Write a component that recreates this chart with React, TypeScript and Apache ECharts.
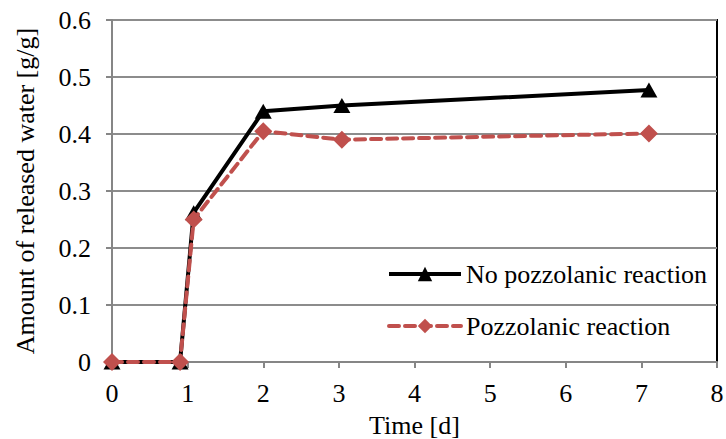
import React, { useEffect, useRef } from "react";
import * as echarts from "echarts";

const seriesNames = ["No pozzolanic reaction", "Pozzolanic reaction"];
const timeNoPozz = [0, 0.9, 1.08, 2.0, 3.04, 7.1];
const valNoPozz = [0, 0, 0.262, 0.44, 0.45, 0.477];
const timePozz = [0, 0.9, 1.08, 2.0, 3.04, 7.1];
const valPozz = [0, 0, 0.25, 0.405, 0.39, 0.401];
const xTicks = [0, 1, 2, 3, 4, 5, 6, 7, 8];
const yTicks = [0, 0.1, 0.2, 0.3, 0.4, 0.5, 0.6];

const FONT = "Liberation Serif";
const FS = 26;

export default function App() {
  const ref = useRef<HTMLDivElement>(null);
  useEffect(() => {
    if (!ref.current) return;
    const chart = echarts.init(ref.current, undefined, { renderer: "svg" });
    const pair = (xs: number[], ys: number[]) => xs.map((x, i) => [x, ys[i]]);
    chart.setOption({
      animation: false,
      backgroundColor: "#ffffff",
      textStyle: { fontFamily: FONT },
      grid: {
        left: 112,
        right: 9,
        top: 20,
        bottom: 77,
        containLabel: false,
        outerBoundsMode: "none",
        show: true,
        borderColor: "#000000",
        borderWidth: 2,
      },
      legend: {
        orient: "vertical",
        left: 382,
        top: 256,
        itemWidth: 72,
        itemHeight: 18,
        itemGap: 26,
        lineStyle: { width: 4 },
        textStyle: { fontFamily: FONT, fontSize: FS, color: "#000" },
        data: seriesNames,
      },
      xAxis: {
        type: "value",
        min: xTicks[0],
        max: xTicks[xTicks.length - 1],
        interval: 1,
        name: "Time [d]",
        nameLocation: "middle",
        nameGap: 50,
        nameTextStyle: { fontFamily: FONT, fontSize: FS, color: "#000" },
        axisLine: { show: true, lineStyle: { color: "#868686", width: 2 } },
        axisTick: { show: true, length: 6, lineStyle: { color: "#868686", width: 2 } },
        axisLabel: { fontFamily: FONT, fontSize: FS, color: "#000", margin: 18 },
        splitLine: { show: false },
      },
      yAxis: {
        type: "value",
        min: yTicks[0],
        max: yTicks[yTicks.length - 1],
        interval: 0.1,
        name: "Amount of released water [g/g]",
        nameLocation: "middle",
        nameGap: 74,
        nameTextStyle: { fontFamily: FONT, fontSize: FS, color: "#000" },
        axisLine: { show: true, lineStyle: { color: "#868686", width: 2 } },
        axisTick: { show: true, length: 6, lineStyle: { color: "#868686", width: 2 } },
        axisLabel: {
          fontFamily: FONT,
          fontSize: FS,
          color: "#000",
          margin: 21,
          formatter: (v: number) => (v === 0 ? "0" : v.toFixed(1)),
        },
        splitLine: { show: true, lineStyle: { color: "#8c8c8c", width: 2 } },
      },
      series: [
        {
          name: seriesNames[0],
          type: "line",
          data: pair(timeNoPozz, valNoPozz),
          symbol: "triangle",
          symbolSize: [17, 15],
          color: "#000000",
          lineStyle: { color: "#000000", width: 4 },
          itemStyle: { color: "#000000" },
          z: 2,
        },
        {
          name: seriesNames[1],
          type: "line",
          data: pair(timePozz, valPozz),
          symbol: "diamond",
          symbolSize: [18, 18],
          color: "#C0504D",
          lineStyle: { color: "#C0504D", width: 4, type: [10, 6], cap: "round" },
          itemStyle: { color: "#C0504D" },
          z: 3,
        },
      ],
    });
    return () => chart.dispose();
  }, []);
  return <div ref={ref} style={{ width: 726, height: 439, position: "absolute", left: 0, top: 0 }} />;
}
